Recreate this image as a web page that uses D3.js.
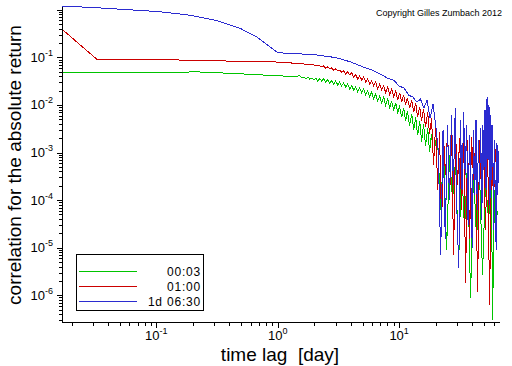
<!DOCTYPE html>
<html><head><meta charset="utf-8">
<script src="https://cdn.jsdelivr.net/npm/d3@7"></script>
<style>
html,body{margin:0;padding:0;background:#fff;}
svg{display:block;}
text{font-family:"Liberation Sans",Arial,Helvetica,sans-serif;fill:#000;}
</style></head><body>
<svg id="chart" width="512" height="366"></svg>
<script>
// ---------- data ----------
const seriesNames = ["00:03", "01:00", "1d 06:30"];
const seriesColors = ["#00c400", "#cc0000", "#2b2bd0"];
const xMajorTicks = [0.1, 1, 10];
const xTickExponents = ["-1", "0", "1"];
const yMajorTicks = [1e-1, 1e-2, 1e-3, 1e-4, 1e-5, 1e-6];
const yTickExponents = ["-1", "-2", "-3", "-4", "-5", "-6"];
const xTitle = "time lag  [day]";
const yTitle = "correlation for the absolute return";
const copyright = "Copyright Gilles Zumbach 2012";

// series 00:03 (green)
const greenLag = [0.0167, 0.1, 0.18, 0.2, 0.35, 0.5, 0.7, 1.0, 1.25,
  1.52, 1.58, 1.64, 1.70, 1.77, 1.83, 1.91, 1.98, 2.06, 2.13,
  2.22, 2.30, 2.39, 2.48, 2.58, 2.68, 2.78, 2.89, 3.00, 3.12,
  3.24, 3.36, 3.49, 3.63, 3.77, 3.92, 4.07, 4.22, 4.39, 4.56,
  4.73, 4.92, 5.11, 5.30, 5.51, 5.72, 5.94, 6.17, 6.41, 6.66,
  6.92, 7.18, 7.46, 7.75, 8.05, 8.36, 8.68, 9.02, 9.37, 9.73,
  10.1, 10.5, 10.9, 11.3, 11.7, 12.2, 12.7, 13.2, 13.7, 14.2,
  14.8, 15.3, 15.9, 16.5, 17.2, 17.8, 18.5, 19.2, 20.0,
  20.75, 21.96, 23.25, 24.60, 26.04, 27.57, 29.18, 30.89, 32.69, 34.60, 36.63, 38.77, 41.04, 43.44,
  45.98, 48.66, 51.51, 54.52, 57.71, 58.8, 61.09, 64.66];
const greenCorr = [0.049, 0.049, 0.049, 0.050, 0.047, 0.045, 0.043, 0.041, 0.040,
  0.0407, 0.0369, 0.0387, 0.0352, 0.0387, 0.0352, 0.0369, 0.0335, 0.0369, 0.0319,
  0.0352, 0.0319, 0.0352, 0.0304, 0.0335, 0.0290, 0.0319, 0.0276, 0.0319, 0.0263,
  0.0304, 0.0251, 0.0290, 0.0239, 0.0276, 0.0217, 0.0251, 0.0207, 0.0239, 0.0188,
  0.0228, 0.0179, 0.0217, 0.0162, 0.0197, 0.0147, 0.0188, 0.0134, 0.0170, 0.0121,
  0.0155, 0.0110, 0.0147, 0.0097, 0.0134, 0.0088, 0.0121, 0.0076, 0.0110, 0.0069,
  0.0092, 0.0055, 0.0086, 0.0046, 0.0074, 0.0037, 0.0064, 0.0030, 0.0055, 0.0023,
  0.0046, 0.0017, 0.0039, 0.00137, 0.0033, 0.00103, 0.0025, 6.9e-4, 0.00183,
  0.0018, 6.2e-5, 0.0011, 9.0e-6, 8.9e-4, 1.0e-4, 7.0e-4, 4.3e-6, 5.5e-4, 2.4e-5, 7.0e-4, 9e-7, 4.3e-4, 1.5e-5,
  3.4e-4, 2.7e-6, 2.6e-4, 3.8e-5, 2.1e-4, 3.0e-7, 1.6e-4, 4.9e-5];

// series 01:00 (red)
const redLag = [0.0167, 0.0324, 0.06, 0.1, 0.142, 0.16, 0.4, 0.7, 1.0, 1.52, 2.0,
  2.22, 2.30, 2.39, 2.48, 2.58, 2.68, 2.78, 2.89, 3.00, 3.12,
  3.24, 3.36, 3.49, 3.63, 3.77, 3.92, 4.07, 4.22, 4.39, 4.56,
  4.73, 4.92, 5.11, 5.30, 5.51, 5.72, 5.94, 6.17, 6.41, 6.66,
  6.92, 7.18, 7.46, 7.75, 8.05, 8.36, 8.68, 9.02, 9.37, 9.73,
  10.1, 10.5, 10.9, 11.3, 11.7, 12.2, 12.7, 13.2, 13.7, 14.2,
  14.8, 15.3, 15.9, 16.5, 17.2, 17.8,
  18.5, 19.2, 20.0, 20.8, 21.5, 22.4, 23.2, 24.1, 25.1, 26.0,
  27.1, 28.1, 29.2, 30.3, 31.5, 32.7, 34.0, 35.3, 36.6, 38.1,
  39.5, 41.1, 42.6, 44.3, 46.0, 47.8, 49.6, 51.5, 53.5, 55.6,
  57.8, 59.9, 62.3, 64.7];
const redCorr = [0.39, 0.0908, 0.0908, 0.0908, 0.091, 0.0865, 0.0836, 0.0816, 0.0797, 0.074, 0.0689,
  0.0659, 0.0628, 0.0659, 0.0599, 0.0628, 0.0570, 0.0599, 0.0543, 0.0570, 0.0518,
  0.0543, 0.0493, 0.0518, 0.0448, 0.0493, 0.0427, 0.0470, 0.0387, 0.0427, 0.0352,
  0.0407, 0.0335, 0.0387, 0.0304, 0.0352, 0.0276, 0.0319, 0.0251, 0.0304, 0.0217,
  0.0276, 0.0207, 0.0251, 0.0179, 0.0239, 0.0162, 0.0217, 0.0147, 0.0197, 0.0127,
  0.0179, 0.0116, 0.0162, 0.0099, 0.0140, 0.0086, 0.0127, 0.0071, 0.0110, 0.0055,
  0.0092, 0.0046, 0.0082, 0.0034, 0.0071, 0.0024,
  0.0052, 5.4e-4, 0.0037, 1.6e-4, 0.0027, 3.0e-5, 0.0022, 3.4e-4, 0.0029, 1.0e-4,
  0.0023, 6.9e-6, 0.0025, 2.1e-4, 0.0020, 6.3e-5, 0.0024, 1.8e-6, 0.0018, 1.5e-5,
  0.0021, 2.6e-4, 0.0016, 1.16e-6, 0.0018, 1.3e-4, 0.0014, 2.4e-5, 0.0020, 6.3e-7,
  0.0015, 1.0e-4, 0.0012, 3.4e-4];

// series 1d 06:30 (blue)
const blueLag = [0.0167, 0.026, 0.0413, 0.107, 0.189, 0.315, 0.487, 0.672, 0.859,
  1, 2, 3, 4, 5, 6, 7, 8, 9, 10, 11, 12, 13, 14, 15, 16, 17, 18, 19, 20,
  21, 22, 23, 24, 25, 26, 27, 28, 29, 30, 31, 32, 33, 34, 35, 36, 37, 38, 39, 40, 41, 42, 43,
  44, 45, 46, 47, 48, 49, 50, 51, 52, 53, 54, 55, 56, 57, 58, 59, 60, 61, 62, 63, 64, 65, 66];
const blueCorr = [1.16, 1.14, 1.06, 0.91, 0.77, 0.59, 0.41, 0.27, 0.167,
  0.125, 0.114, 0.099, 0.080, 0.0635, 0.054, 0.0446, 0.0367, 0.0333, 0.025, 0.0226, 0.0161, 0.0146, 0.0115, 0.0133, 0.0086, 0.0127, 0.0053, 0.0105, 0.0038,
  0.0011, 7.0e-6, 0.0030, 1.5e-5, 0.0038, 1.0e-4, 0.0061, 2.1e-4, 0.0086, 4.9e-5, 3.8e-6, 0.0048, 1.6e-4, 0.0071, 3.4e-4, 0.0038, 3.0e-5, 0.0023, 2.6e-4, 1.0e-5, 0.0030, 1.3e-4, 0.0048,
  6.2e-5, 0.0018, 2.1e-4, 0.0033, 3.8e-5, 0.0038, 4.3e-4, 0.0078, 1.6e-4, 0.0146, 7.0e-4, 0.0099, 7.9e-5, 0.0061, 2.6e-4, 0.0038, 2.4e-5, 0.0018, 1.0e-4, 9.0e-6, 0.0016, 1.3e-4, 0.0011];

// ---------- drawing ----------
const svg = d3.select("#chart");
const x = d3.scaleLog().domain([0.0167, 66.5]).range([62, 499]);
const y = d3.scaleLog().domain([2.75e-7, 1.2]).range([322, 6]);

const series = [
  {name: seriesNames[0], color: seriesColors[0], pts: d3.zip(greenLag, greenCorr)},
  {name: seriesNames[1], color: seriesColors[1], pts: d3.zip(redLag, redCorr)},
  {name: seriesNames[2], color: seriesColors[2], pts: d3.zip(blueLag, blueCorr)}
];

const line = d3.line().x(d => x(d[0])).y(d => y(d[1]));
svg.append("g").selectAll("path").data(series).join("path")
  .attr("d", d => line(d.pts))
  .attr("fill", "none")
  .attr("stroke", d => d.color)
  .attr("stroke-width", 1)
  .attr("shape-rendering", "crispEdges");

// axes
function styleAxis(g) {
  g.selectAll("path.domain").attr("stroke", "#000").attr("shape-rendering", "crispEdges");
  g.selectAll(".tick line").attr("stroke", "#000").attr("shape-rendering", "crispEdges");
  g.selectAll(".tick text").remove();
}
svg.append("g").attr("transform", "translate(0,322)")
  .call(d3.axisBottom(x).tickValues(x.ticks()).tickSize(4).tickSizeOuter(0).tickFormat(""))
  .call(styleAxis);
svg.append("g").attr("transform", "translate(0,322)")
  .call(d3.axisBottom(x).tickValues(xMajorTicks).tickSize(6).tickSizeOuter(0).tickFormat(""))
  .call(styleAxis);
svg.append("g").attr("transform", "translate(62,0)")
  .call(d3.axisLeft(y).tickValues(y.ticks()).tickSize(3).tickSizeOuter(0).tickFormat(""))
  .call(styleAxis);
svg.append("g").attr("transform", "translate(62,0)")
  .call(d3.axisLeft(y).tickValues(yMajorTicks.concat([1])).tickSize(5).tickSizeOuter(0).tickFormat(""))
  .call(styleAxis);

// tick labels
xMajorTicks.forEach((v, i) => {
  const t = svg.append("text").attr("x", x(v)).attr("y", 340).attr("text-anchor", "middle")
    .style("font-size", "13px");
  t.append("tspan").text("10");
  t.append("tspan").attr("dy", -6).style("font-size", "9px").text(xTickExponents[i]);
});
yMajorTicks.forEach((v, i) => {
  const t = svg.append("text").attr("x", 53).attr("y", y(v) + 4.5).attr("text-anchor", "end")
    .style("font-size", "13px");
  t.append("tspan").text("10");
  t.append("tspan").attr("dy", -6).style("font-size", "9px").text(yTickExponents[i]);
});

// titles
svg.append("text").attr("x", 280).attr("y", 361).attr("text-anchor", "middle")
  .style("font-size", "19px").style("white-space", "pre").text(xTitle);
svg.append("text").attr("transform", "translate(21,165) rotate(-90)").attr("text-anchor", "middle")
  .style("font-size", "19px").text(yTitle);
svg.append("text").attr("x", 502).attr("y", 16).attr("text-anchor", "end")
  .style("font-size", "9px").text(copyright);

// legend
const lg = svg.append("g");
lg.append("rect").attr("x", 76.5).attr("y", 254.5).attr("width", 127).attr("height", 56)
  .attr("fill", "#fff").attr("stroke", "#000");
series.forEach((s, i) => {
  const ly = 271 + i * 15;
  lg.append("line").attr("x1", 79).attr("x2", 137).attr("y1", ly + 0.5).attr("y2", ly + 0.5)
    .attr("stroke", s.color).attr("shape-rendering", "crispEdges");
  lg.append("text").attr("x", 201).attr("y", ly + 4.5).attr("text-anchor", "end")
    .style("font-size", "12px").style("letter-spacing", "0.8px").text(s.name);
});
</script>
</body></html>
